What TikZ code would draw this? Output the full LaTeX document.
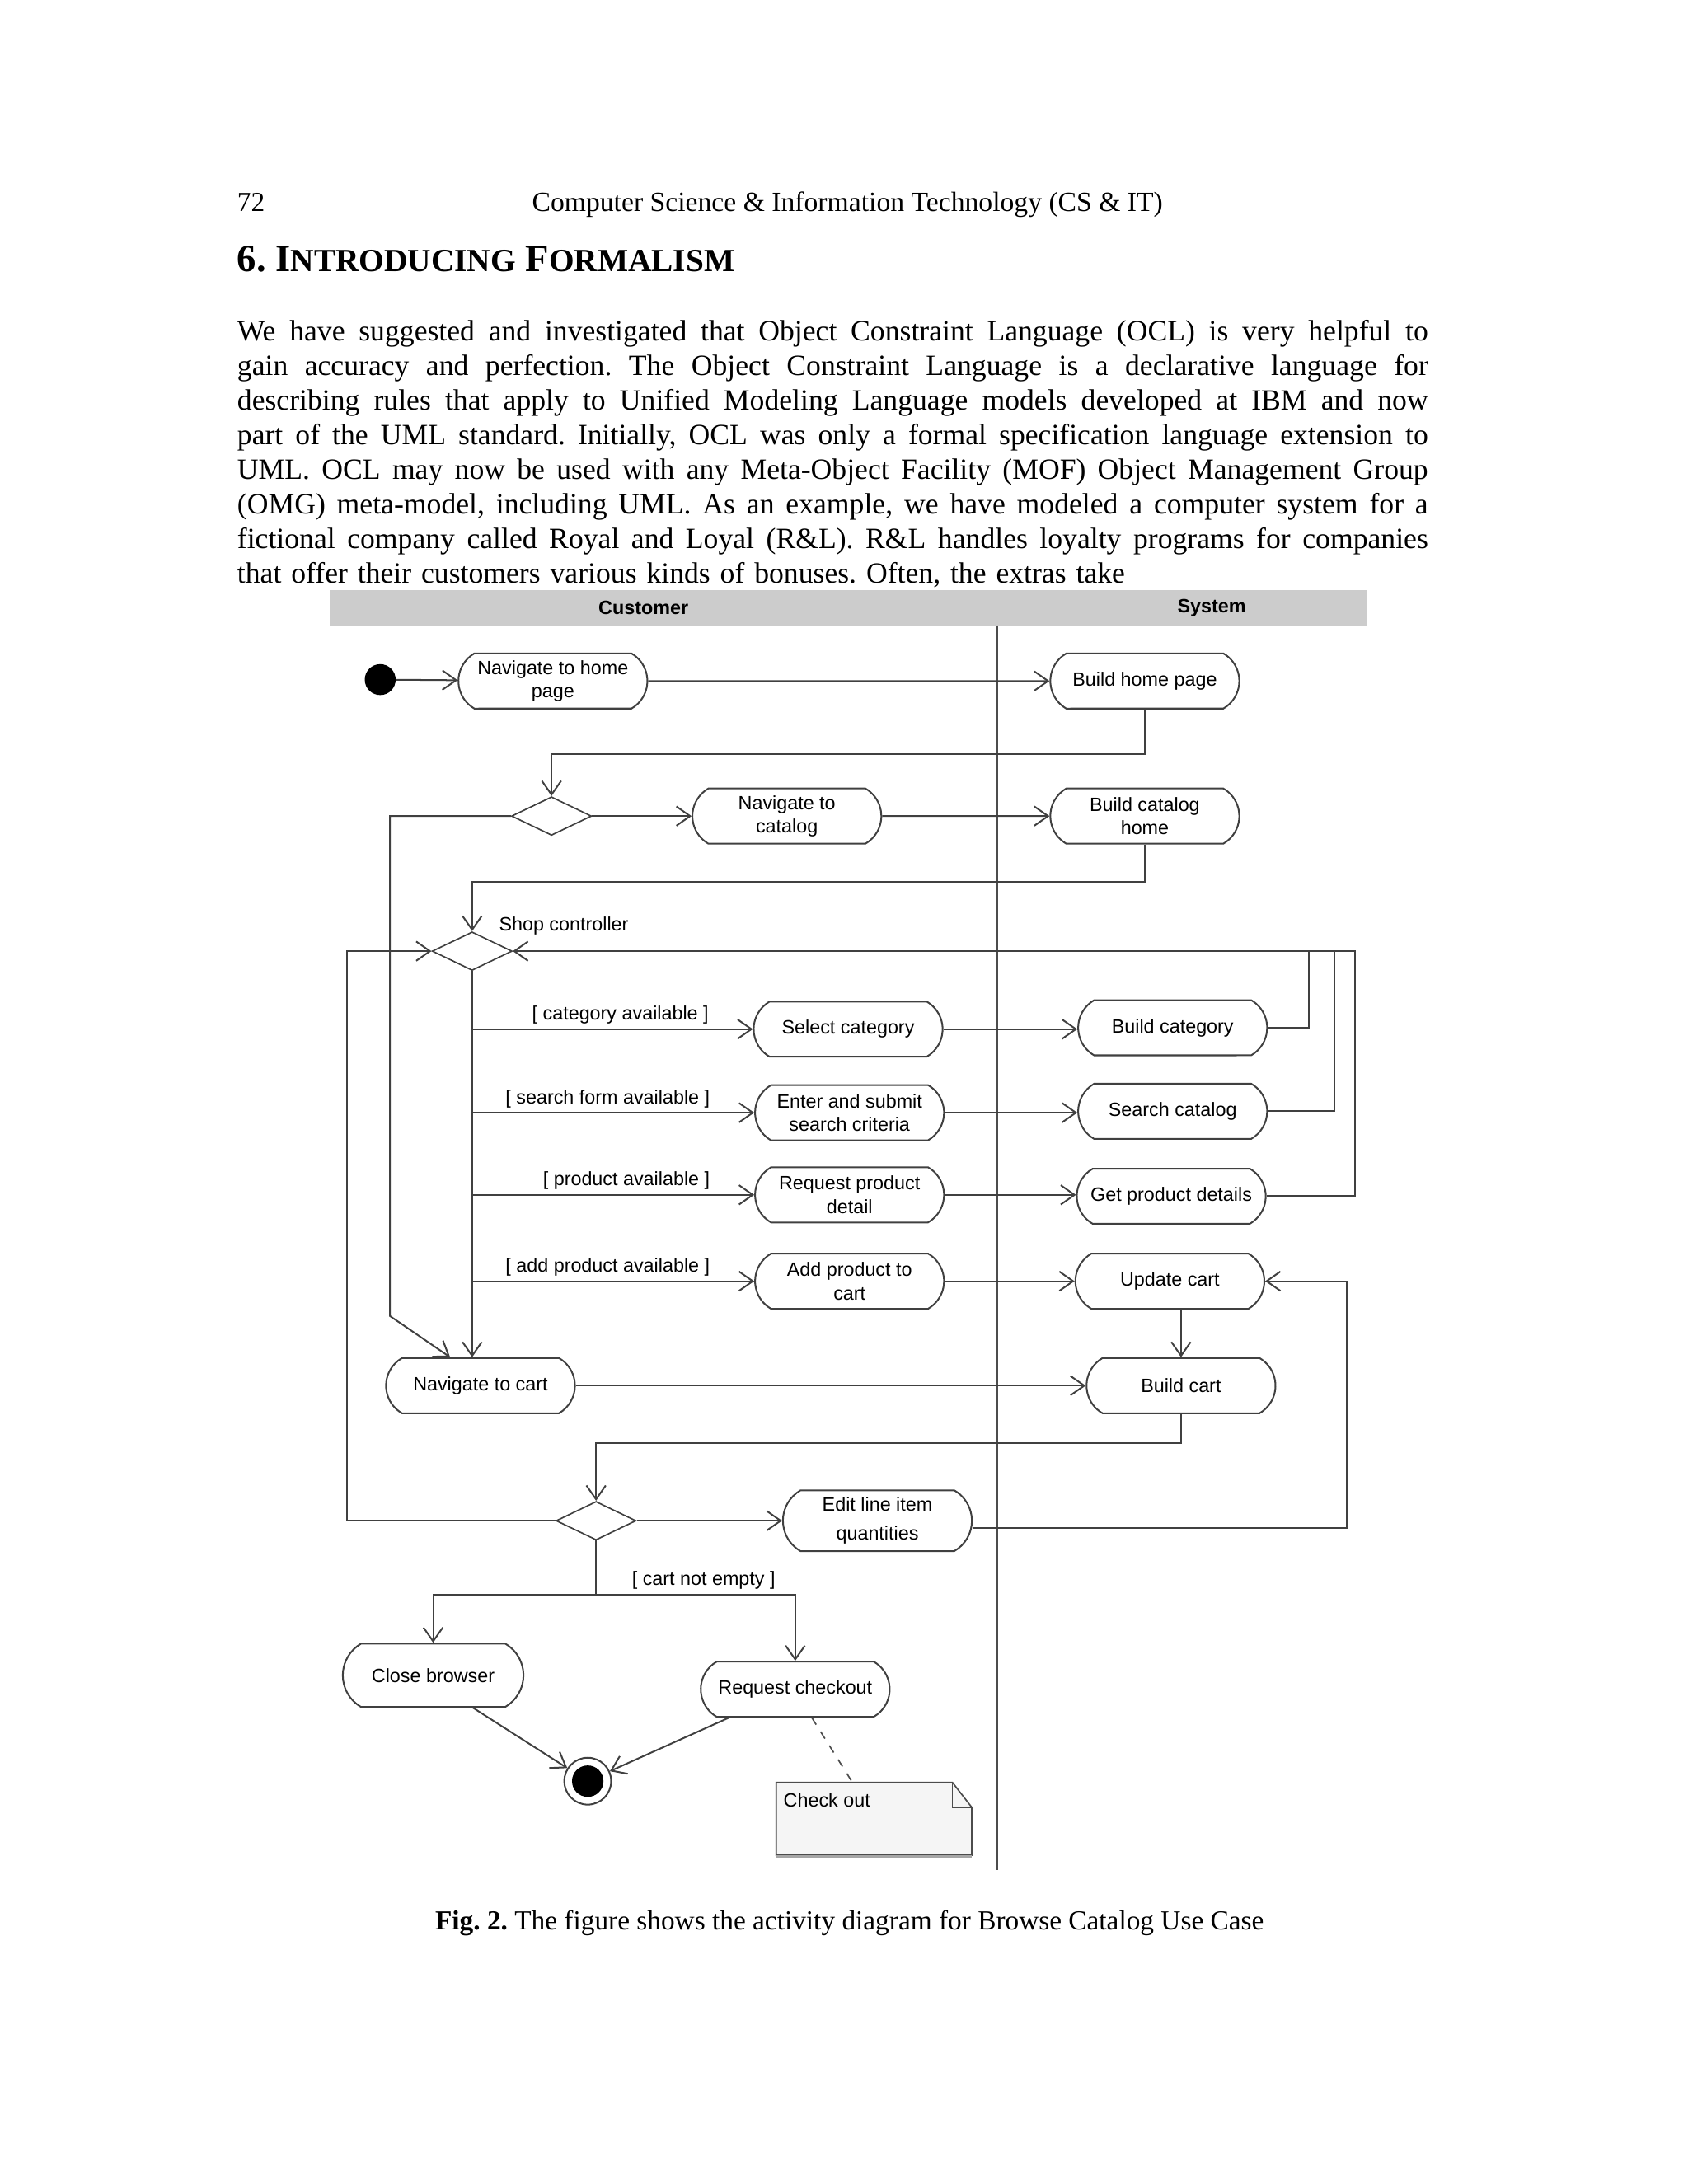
\documentclass[tikz,border=0pt]{standalone}
\usepackage{fontspec}
\setmainfont{Liberation Serif}
\setsansfont{Liberation Sans}
\usetikzlibrary{shapes.geometric,shapes.misc,arrows.meta,positioning}
\setlength{\parindent}{0pt}

\newcommand{\fullline}[1]{\leavevmode\hbox to 431.8bp{\spaceskip=0.25em plus 0.5em minus 0.15em\relax #1}}

\tikzset{
  action/.style={rounded rectangle, rounded rectangle arc length=120, draw=black!75,
    line width=0.6bp, minimum width=70.5bp, minimum height=20bp, inner sep=1bp,
    align=center, font=\sffamily\fontsize{7}{8.5}\selectfont},
  decision/.style={diamond, draw=black!75, line width=0.5bp, minimum width=29bp,
    minimum height=14bp, inner sep=0pt},
  guard/.style={font=\sffamily\fontsize{7}{8}\selectfont, inner sep=1.5bp},
  lane/.style={font=\sffamily\bfseries\fontsize{7}{8}\selectfont},
  flow/.style={draw=black!75, line width=0.6bp, -{Straight Barb[length=5bp,width=7bp]}},
  link/.style={draw=black!75, line width=0.6bp},
}

\begin{document}
\frenchspacing
\begin{tikzpicture}[x=0.505bp, y=-0.505bp]
\useasboundingbox (0,0) rectangle (1211.9,1568.3);

% page text
\node[anchor=base west, inner sep=0, font=\fontsize{10}{12}\selectfont] (pagenum) at (170,152) {72};
\node[anchor=base, inner sep=0, font=\fontsize{10.1}{12}\selectfont] (runhead) at (608.5,152)
  {Computer Science \& Information Technology (CS \& IT)};
\node[anchor=base west, inner sep=0, font=\bfseries\fontsize{14}{16}\selectfont] (secthead) at (170,194.7)
  {6. I{\fontsize{11.8}{12}\selectfont NTRODUCING} F{\fontsize{11.8}{12}\selectfont ORMALISM}};
\node[anchor=north west, inner sep=0, text width=431.8bp, align=left,
  font=\fontsize{10.7}{12.6}\selectfont] (intro) at (170,229.5) {%
  \fullline{We have suggested and investigated that Object Constraint Language (OCL) is very helpful to}\\
  \fullline{gain accuracy and perfection. The Object Constraint Language is a declarative language for}\\
  \fullline{describing rules that apply to Unified Modeling Language models developed at IBM and now}\\
  \fullline{part of the UML standard. Initially, OCL was only a formal specification language extension to}\\
  \fullline{UML. OCL may now be used with any Meta-Object Facility (MOF) Object Management Group}\\
  \fullline{(OMG) meta-model, including UML. As an example, we have modeled a computer system for a}\\
  \fullline{fictional company called Royal and Loyal (R\&L). R\&L handles loyalty programs for companies}\\
  that offer their customers various kinds of bonuses. Often, the extras take};
\node[anchor=base, inner sep=0, font=\fontsize{10}{12}\selectfont] (caption) at (610,1386)
  {\textbf{Fig. 2.} The figure shows the activity diagram for Browse Catalog Use Case};

% swimlanes
\fill[gray!40] (237,424) rectangle (981,449);
\node[lane] (custlane) at (462,436.5) {Customer};
\node[lane] (syslane) at (870,436.5) {System};
\draw[black!70, line width=0.6bp] (716,449) -- (716,1343);

% activities
\node[circle, fill=black, minimum size=11.2bp, inner sep=0] (start) at (273,488) {};
\node[action] (navhome) at (397,489) {Navigate to home\\page};
\node[action] (buildhome) at (822,489) {Build home page};
\node[decision] (choice) at (396,586) {};
\node[action] (navcat) at (565,586) {Navigate to\\catalog};
\node[action] (buildcat) at (822,586) {Build catalog\\home};
\node[decision] (shop) at (339,683) {};
\node[guard, anchor=west] (shoplabel) at (355,665) {Shop controller};
\node[action] (selcat) at (609,739) {Select category};
\node[action] (searchform) at (610,799) {Enter and submit\\search criteria};
\node[action] (reqprod) at (610,858) {Request product\\detail};
\node[action] (addprod) at (610,920) {Add product to\\cart};
\node[action] (buildcatg) at (842,738) {Build category};
\node[action] (searchcat) at (842,798) {Search catalog};
\node[action] (getprod) at (841,859) {Get product details};
\node[action] (updcart) at (840,920) {Update cart};
\node[action] (navcart) at (345,995) {Navigate to cart};
\node[action] (buildcart) at (848,995) {Build cart};
\node[decision] (cartchoice) at (428,1092) {};
\node[action, minimum height=22bp, font=\sffamily\fontsize{7}{10.5}\selectfont] (editqty) at (630,1092)
  {Edit line item\\quantities};
\node[action, minimum width=67.5bp, minimum height=23bp] (closebr) at (311,1203) {Close browser};
\node[action] (checkout) at (571,1213) {Request checkout};
\node[circle, draw=black!75, line width=0.6bp, minimum size=17bp, inner sep=0,
  path picture={\fill (path picture bounding box.center) circle (5.7bp);}] (finish) at (422,1279) {};

% note
\node[minimum width=70.5bp, minimum height=26bp, inner sep=0] (note) at (627.5,1306) {};
\draw[black!70, fill=gray!8, line width=0.5bp] (note.north west) -- ([xshift=-7bp]note.north east)
  -- ([yshift=-9bp]note.north east) -- (note.south east) -- (note.south west) -- cycle;
\draw[black!70, line width=0.5bp] ([xshift=-7bp]note.north east) -- ([xshift=-7bp,yshift=-9bp]note.north east)
  -- ([yshift=-9bp]note.north east);
\draw[gray!70, line width=1.2bp] ([yshift=-0.6bp]note.south west) -- ([yshift=-0.6bp]note.south east);
\node[guard, anchor=west] (notetext) at ([xshift=1bp,yshift=-6.5bp]note.north west) {Check out};

% flows
\draw[flow] (start) -- (navhome);
\draw[flow] (navhome) -- (buildhome);
\draw[flow] (buildhome.south) -- ++(0,32) -| (choice.north);
\draw[flow] (choice) -- (navcat);
\draw[flow] (navcat) -- (buildcat);
\draw[flow] (buildcat.south) -- ++(0,27) -| (shop.north);
\coordinate (bypass) at (280,945);
\draw[flow] (choice.west) -| (bypass) -- ([xshift=-11bp]navcart.north);
\draw[flow] (shop.south) -- (shop.south |- navcart.north);
\foreach \act/\cond in {selcat/category available, searchform/search form available,
    reqprod/product available, addprod/add product available}
  \draw[flow] (shop.south |- \act.west) -- node[guard, above left, pos=0.86] {[ \cond{} ]} (\act.west);
\draw[flow] (selcat.east) -- (selcat.east -| buildcatg.west);
\draw[flow] (searchform.east) -- (searchform.east -| searchcat.west);
\draw[flow] (reqprod.east) -- (reqprod.east -| getprod.west);
\draw[flow] (addprod.east) -- (addprod.east -| updcart.west);

% back to the shop controller
\coordinate (fbA) at (940,683);
\coordinate (fbB) at (958,683);
\coordinate (fbC) at (973,683);
\draw[link] (buildcatg.east) -| (fbA);
\draw[link] (searchcat.east) -| (fbB);
\draw[flow] (getprod.east) -| (fbC) -- (shop.east);
\coordinate (loopback) at (249,683);
\draw[flow] (cartchoice.west) -| (loopback) -- (shop.west);

% cart
\draw[flow] (navcart.east) -- (navcart.east -| buildcart.west);
\draw[flow] (buildcart.north |- updcart.south) -- (buildcart.north);
\draw[flow] (buildcart.south) -- ++(0,21) -| (cartchoice.north);
\draw[flow] (cartchoice) -- (editqty);
\coordinate (retcart) at (967,920);
\draw[flow] ([yshift=-2.5bp]editqty.east) -| (retcart) -- (updcart.east);
\coordinate (split) at (428,1145);
\draw[link] (cartchoice.south) -- (split);
\draw[flow] (split) -| (closebr.north);
\draw[flow] (split) -| node[guard, above, pos=0.27] {[ cart not empty ]} (checkout.north);
\draw[flow] ([xshift=14.5bp]closebr.south) -- (finish);
\draw[flow] ([xshift=-24bp]checkout.south) -- (finish);
\draw[black!70, dashed, line width=0.5bp] ([xshift=6bp]checkout.south) -- ([xshift=-7.8bp]note.north);
\end{tikzpicture}
\end{document}
